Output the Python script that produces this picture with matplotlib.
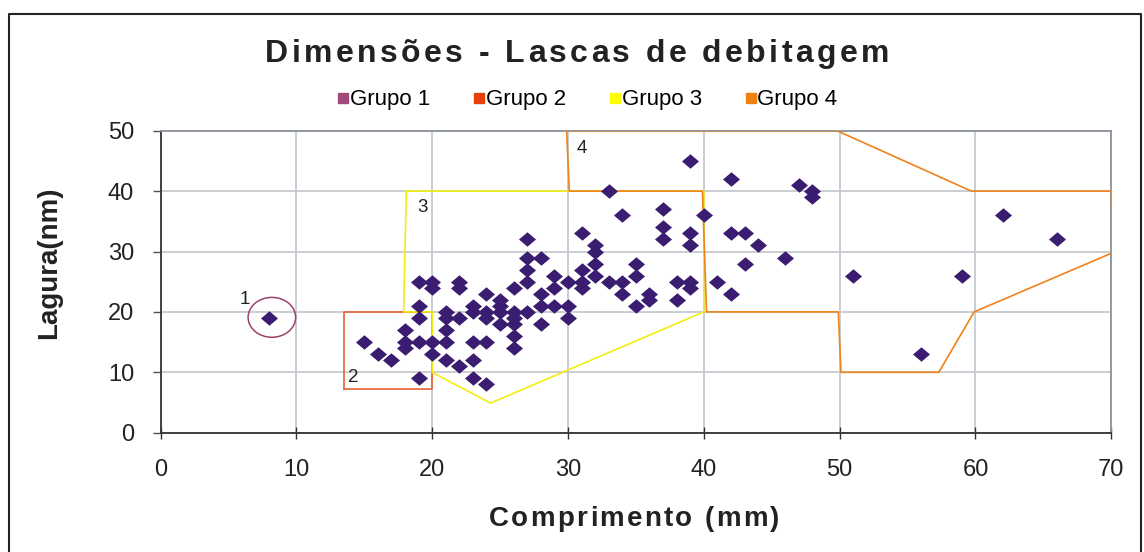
import matplotlib
matplotlib.use("Agg")
import matplotlib.pyplot as plt
from matplotlib.lines import Line2D
from matplotlib.patches import Ellipse
from matplotlib.font_manager import FontProperties

plt.rcParams["font.family"] = ["Liberation Sans", "DejaVu Sans"]

# comprimento (x) / largura (y) das lascas
comprimento = [8, 15, 16, 17,
               18, 18, 18,
               19, 19, 19, 19, 19,
               20, 20, 20, 20,
               21, 21, 21, 21, 21,
               22, 22, 22, 22,
               23, 23, 23, 23, 23,
               24, 24, 24, 24, 24,
               25, 25, 25, 25,
               26, 26, 26, 26, 26, 26,
               27, 27, 27, 27, 27,
               28, 28, 28, 28,
               29, 29, 29,
               30, 30, 30,
               31, 31, 31, 31,
               32, 32, 32, 32,
               33, 33,
               34, 34, 34,
               35, 35, 35,
               36, 36,
               37, 37, 37,
               38, 38,
               39, 39, 39, 39, 39,
               40, 41,
               42, 42, 42,
               43, 43,
               44, 46, 47, 48, 48,
               51, 56, 59, 62, 66]
largura = [19, 15, 13, 12,
           17, 15, 14,
           25, 21, 19, 15, 9,
           25, 24, 15, 13,
           20, 19, 17, 15, 12,
           25, 24, 19, 11,
           21, 20, 15, 12, 9,
           23, 20, 19, 15, 8,
           22, 21, 20, 18,
           24, 20, 19, 18, 16, 14,
           32, 29, 27, 25, 20,
           29, 23, 21, 18,
           26, 24, 21,
           25, 21, 19,
           33, 27, 25, 24,
           31, 30, 28, 26,
           40, 25,
           36, 25, 23,
           28, 26, 21,
           23, 22,
           37, 34, 32,
           25, 22,
           45, 33, 31, 25, 24,
           36, 25,
           42, 33, 23,
           33, 28,
           31, 29, 41, 40, 39,
           26, 13, 26, 36, 32]

# contornos dos grupos
grupo2_x = [13.5, 20, 20, 13.5, 13.5]
grupo2_y = [7.2, 7.2, 20, 20, 7.2]
grupo3_x = [18.1, 17.9, 20, 20, 24.3, 40, 40, 18.1]
grupo3_y = [40, 20, 20, 10, 4.9, 20, 40, 40]
grupo4_x = [29.9, 49.8, 59.7, 70, 70.1, 59.9, 57.3, 50.1, 49.9, 40.2, 39.9, 30.1, 29.9]
grupo4_y = [50, 50, 40, 40, 29.8, 20, 10, 10, 20, 20, 40, 40, 50]

grupos = ["Grupo 1", "Grupo 2", "Grupo 3", "Grupo 4"]
cores_grupo = ["#A04A7C", "#E8400C", "#FFFF00", "#F08010"]
rotulos = ["1", "2", "3", "4"]
rotulo_x = [6.2, 14.2, 19.3, 31.0]
rotulo_y = [22, 9.1, 37.3, 47.1]

W, H = 1144, 552
fig = plt.figure(figsize=(W / 100, H / 100), dpi=100)
fig.patch.set_facecolor("white")
renderer = fig.canvas.get_renderer()


def spaced_text(cx, cy, s, size, track, **kw):
    """Texto centrado em (cx, cy) pixels, com espaçamento extra entre letras."""
    fp = FontProperties(family=["Liberation Sans"], weight="bold", size=size)
    bar = renderer.get_text_width_height_descent("|", fp, ismath=False)[0]

    def width(t):
        return renderer.get_text_width_height_descent(t + "|", fp, ismath=False)[0] - bar

    total = width(s) + track * (len(s) - 1)
    x0 = cx - total / 2
    for i, ch in enumerate(s):
        if ch == " ":
            continue
        x = x0 + width(s[:i]) + track * i
        fig.text(x / W, 1 - cy / H, ch, fontproperties=fp, ha="left", va="center", **kw)


ax = fig.add_axes([160.5 / W, 1 - 432.7 / H, (1111.3 - 160.5) / W, (432.7 - 130.7) / H])

ax.grid(True, color="#c6cad0", linewidth=1.3, zorder=0)
ax.set_axisbelow(True)

ax.plot(grupo2_x, grupo2_y, color="#E8603A", lw=1.2, zorder=2)
ax.plot(grupo3_x, grupo3_y, color="#F2EE10", lw=1.2, zorder=2)
ax.plot(grupo4_x, grupo4_y, color="#F0821A", lw=1.2, zorder=3)
ax.add_patch(Ellipse((8.2, 19.1), 3.5, 6.6, fill=False, edgecolor="#A04070", lw=1.1, zorder=3))

diamante = [(-1, 0), (0, 0.85), (1, 0), (0, -0.85), (-1, 0)]
ax.scatter(comprimento, largura, marker=diamante, s=150, color="#3A1C70",
           linewidths=0, zorder=4)

for t, tx, ty in zip(rotulos, rotulo_x, rotulo_y):
    ax.text(tx, ty, t, fontsize=13.5, color="#222222", ha="center", va="center", zorder=5)

ax.set_xlim(0, 70)
ax.set_ylim(0, 50)
ax.set_xticks(range(0, 71, 10))
ax.set_yticks(range(0, 51, 10))
ax.tick_params(axis="x", direction="inout", length=8, width=1, color="#333333",
               labelsize=17, pad=15, labelcolor="#222222")
ax.tick_params(axis="y", direction="out", length=6, width=1, color="#555555",
               labelsize=17, pad=13, labelcolor="#222222")
for s in ["top", "right"]:
    ax.spines[s].set_color("#8C939C")
    ax.spines[s].set_linewidth(1.3)
for s in ["left", "bottom"]:
    ax.spines[s].set_color("#333333")
    ax.spines[s].set_linewidth(1.3)

ax.set_ylabel("Lagura(nm)", fontsize=20, fontweight="bold", color="#222222")
ax.yaxis.set_label_coords(-0.1036, 0.562)

spaced_text(634, 519, "Comprimento (mm)", 20, 2.3, color="#222222")
spaced_text(577, 54, "Dimensões - Lascas de debitagem", 23, 3.4, color="#222222")

handles = [Line2D([], [], marker="s", linestyle="none", markersize=7,
                  markerfacecolor=c, markeredgecolor=c) for c in cores_grupo]
fig.legend(handles, grupos, loc="center", bbox_to_anchor=(587 / W, 1 - 100 / H),
           ncol=4, frameon=False, fontsize=16, handletextpad=0.0,
           columnspacing=1.9, handlelength=0.6, borderpad=0)

# moldura do gráfico
fx0, fy1, fx1 = 8.5 / W, 1 - 13.5 / H, 1140.5 / W
fig.add_artist(Line2D([fx0, fx0, fx1, fx1], [0, fy1, fy1, 0],
                      transform=fig.transFigure, color="#222222", lw=1.5))

fig.savefig("out.png", dpi=100, facecolor="white")
